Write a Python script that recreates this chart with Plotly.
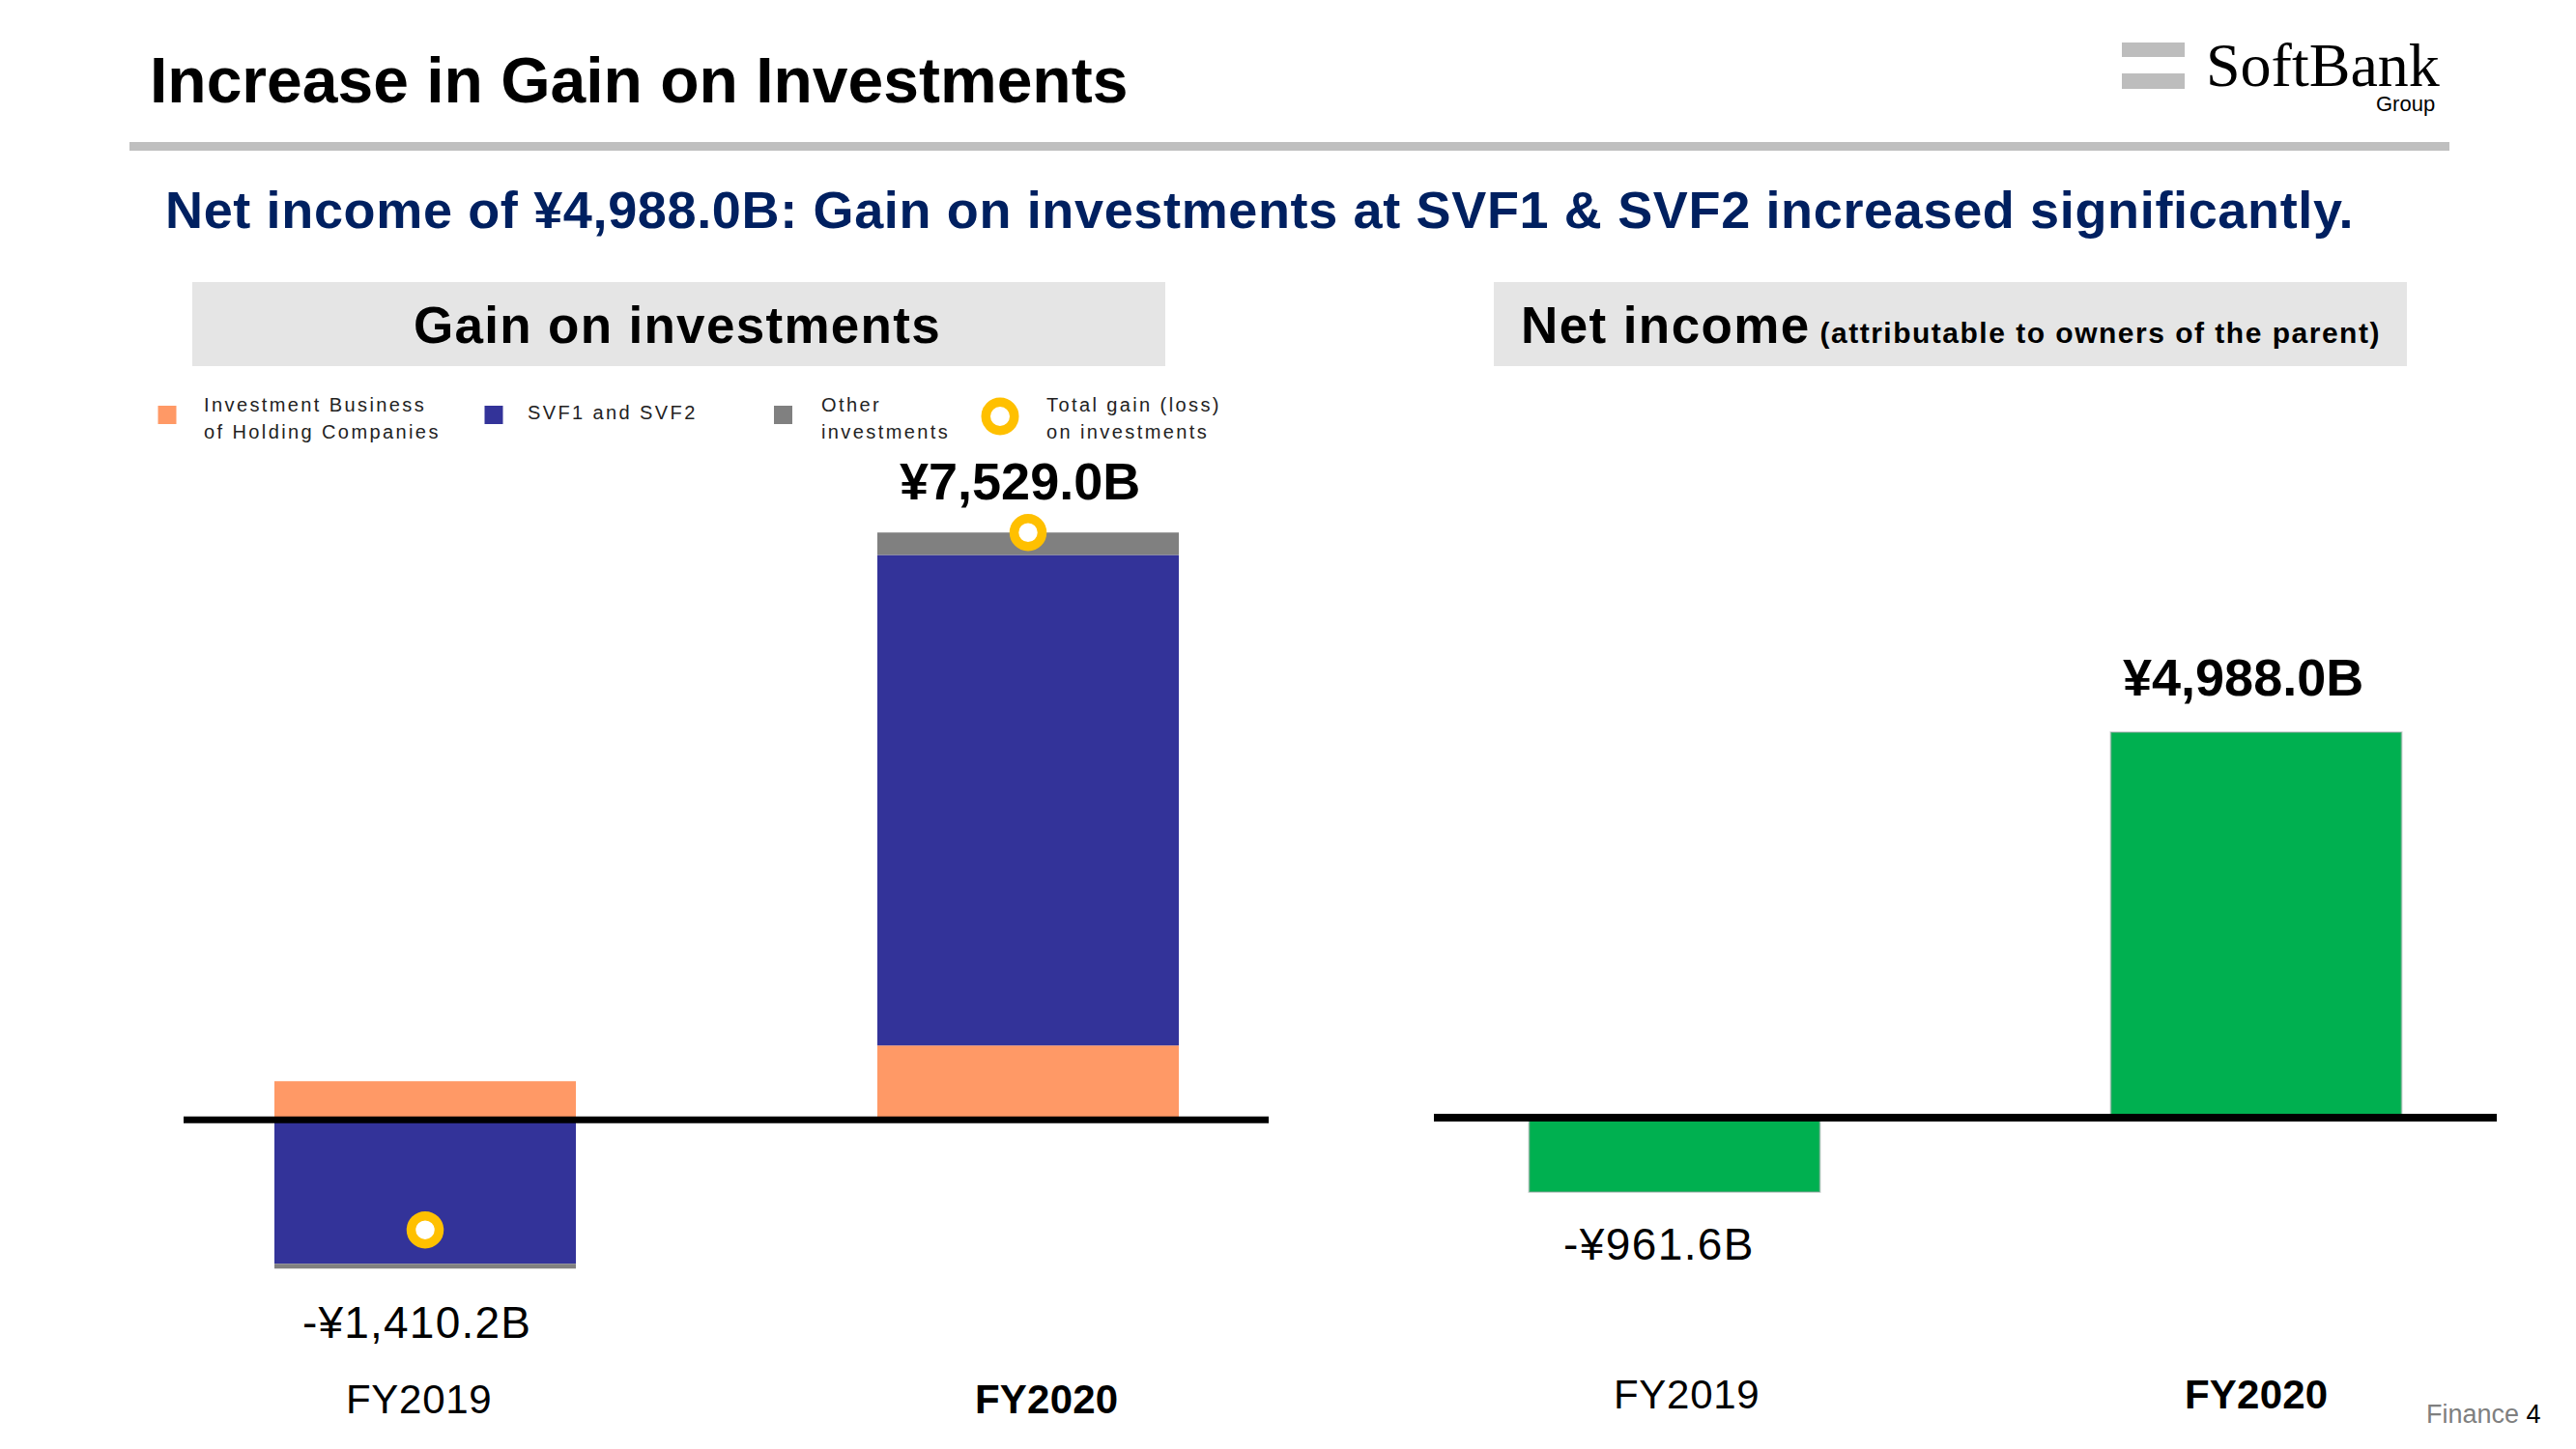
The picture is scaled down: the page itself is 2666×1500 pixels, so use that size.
import plotly.graph_objects as go

W, H = 2666, 1500
OFF = 8  # page body margin of the written html

# ---------------- data ----------------
categories = ["FY2019", "FY2020"]
holding_companies = [495.0, 955.0]      # Investment Business of Holding Companies
svf1_svf2 = [-1845.0, 6287.0]           # SVF1 and SVF2
other_investments = [-60.2, 287.0]      # Other investments
total_gain = [-1410.2, 7529.0]          # Total gain (loss) on investments
net_income = [-961.6, 4988.0]           # Net income attributable to owners of the parent

legend_labels = [
    "Investment Business<br>of Holding Companies",
    "SVF1 and SVF2",
    "Other<br>investments",
    "Total gain (loss)<br>on investments",
]
title_text = "Increase in Gain on Investments"
subtitle_text = "Net income of ¥4,988.0B: Gain on investments at SVF1 & SVF2 increased significantly."
left_header = "Gain on investments"
right_header_main = "Net income"
right_header_sub = " (attributable to owners of the parent)"

# ---------------- style ----------------
FONT = "Liberation Sans, Arial, Helvetica, sans-serif"
SERIF = "Liberation Serif, Times New Roman, serif"
ORANGE = "#FF9966"
BLUE = "#333399"
GRAY = "#808080"
YELLOW = "#FFC000"
GREEN = "#00B050"
NAVY = "#002060"


def px(x):
    return (x - OFF) / W


def py(y):
    return 1 - (y - OFF) / H


def yen(v):
    return ("-" if v < 0 else "") + f"¥{abs(v):,.1f}B"


def span(text, ls=None, bold=False, extra=""):
    t = f"<b>{text}</b>" if bold else text
    style = ""
    if ls:
        style += f"letter-spacing:{ls};"
    style += extra
    if style:
        t = f'<span style="{style}">{t}</span>'
    return t


def ann(text, x, y, size, color="black", xanchor="center", yanchor="middle",
        family=FONT, xref="paper", yref="paper", xshift=0, yshift=0, align="left"):
    return dict(text=text, x=x, y=y, xref=xref, yref=yref, showarrow=False,
                xanchor=xanchor, yanchor=yanchor, align=align,
                xshift=xshift, yshift=yshift,
                font=dict(size=size, color=color, family=family))


fig = go.Figure()

# ---- left chart: stacked gain on investments ----
for vals, col, nm in [(holding_companies, ORANGE, legend_labels[0]),
                      (svf1_svf2, BLUE, legend_labels[1]),
                      (other_investments, GRAY, legend_labels[2])]:
    fig.add_trace(go.Bar(x=categories, y=vals, name=nm.replace("<br>", " "),
                         marker=dict(color=col, line=dict(width=0)),
                         xaxis="x", yaxis="y"))

fig.add_trace(go.Scatter(x=categories, y=total_gain, mode="markers",
                         name=legend_labels[3].replace("<br>", " "),
                         marker=dict(symbol="circle", size=29, color="white",
                                     line=dict(color=YELLOW, width=9.5)),
                         xaxis="x", yaxis="y"))

# ---- right chart: net income ----
fig.add_trace(go.Bar(x=categories, y=net_income, name="Net income",
                     marker=dict(color=GREEN,
                                 line=dict(color="rgba(150,160,160,0.45)", width=2)),
                     xaxis="x2", yaxis="y2"))

# axis scales (zero-line page pixel position and pixels per ¥B)
L_ZERO, L_K = 1159.3, 0.08076
R_ZERO, R_K = 1157.0, 0.0800

annotations = []
shapes = []

# zero lines
shapes.append(dict(type="line", xref="x domain", yref="y", x0=0, x1=1, y0=0, y1=0,
                   line=dict(color="black", width=7), layer="above"))
shapes.append(dict(type="line", xref="x2 domain", yref="y2", x0=0, x1=1, y0=0, y1=0,
                   line=dict(color="black", width=8), layer="above"))

# value labels
for cat, v in zip(categories, total_gain):
    pos = v > 0
    annotations.append(ann(span(yen(v), ls=None if pos else "1.2px", bold=pos), cat, v,
                           54 if pos else 46,
                           xref="x", yref="y", yshift=53 if pos else -96,
                           xshift=-9 if pos else -9))
for cat, v in zip(categories, net_income):
    pos = v > 0
    annotations.append(ann(span(yen(v), ls=None if pos else "1.4px", bold=pos), cat, v,
                           54 if pos else 46,
                           xref="x2", yref="y2", yshift=57 if pos else -54,
                           xshift=-14 if pos else -16))

# category labels
cat_shift_left = [-7, 19]
cat_shift_right = [12, 0]
for i, cat in enumerate(categories):
    bold = (i == len(categories) - 1)
    ls = "0.2px" if bold else "0.7px"
    annotations.append(ann(span(cat, ls=ls, bold=bold), cat, py(1448), 42,
                           xref="x", yref="paper", xshift=cat_shift_left[i]))
    annotations.append(ann(span(cat, ls=ls, bold=bold), cat, py(1443), 42,
                           xref="x2", yref="paper", xshift=cat_shift_right[i]))

# title, rule, subtitle
annotations.append(ann(span(title_text, bold=True), px(153), py(83), 66,
                       xanchor="left"))
shapes.append(dict(type="rect", xref="paper", yref="paper", x0=px(134), x1=px(2535),
                   y0=py(156), y1=py(147), fillcolor="#BFBFBF", line=dict(width=0),
                   layer="below"))
annotations.append(ann(span(subtitle_text, ls="0.65px", bold=True), px(169), py(217.5), 54,
                       color=NAVY, xanchor="left"))

# panel headers
for x0, x1 in [(199, 1206), (1546, 2491)]:
    shapes.append(dict(type="rect", xref="paper", yref="paper", x0=px(x0), x1=px(x1),
                       y0=py(379), y1=py(292), fillcolor="#E5E5E5",
                       line=dict(width=0), layer="below"))
annotations.append(ann(span(left_header, ls="1.3px", bold=True), px(701), py(336), 53))
annotations.append(ann(
    span(right_header_main, ls="1.4px", bold=True)
    + span(right_header_sub, ls="1.5px", bold=True, extra="font-size:30px;"),
    px(1572), py(336), 53, xanchor="left"))

# legend
sw_cols = [ORANGE, BLUE, GRAY]
sw_x = [173, 511, 810.5]
for c, cx in zip(sw_cols, sw_x):
    shapes.append(dict(type="rect", xref="paper", yref="paper",
                       x0=px(cx - 9.5), x1=px(cx + 9.5), y0=py(439), y1=py(420),
                       fillcolor=c, line=dict(width=0)))
ring_r = 14.75
shapes.append(dict(type="circle", xref="paper", yref="paper",
                   x0=px(1035 - ring_r), x1=px(1035 + ring_r),
                   y0=py(431 + ring_r), y1=py(431 - ring_r),
                   fillcolor="white", line=dict(color=YELLOW, width=9.5)))
txt_x = [209, 544, 848, 1081]
for lab, tx in zip(legend_labels, txt_x):
    lines = lab.split("<br>")
    if len(lines) == 1:
        ys = [426.5]
    else:
        ys = [418.5, 447.0]
    for line, yy in zip(lines, ys):
        annotations.append(ann(span(line, ls="2.4px"), px(tx), py(yy), 20,
                               color="#222222", xanchor="left"))

# logo
for y0, y1 in [(44, 59), (76, 92)]:
    shapes.append(dict(type="rect", xref="paper", yref="paper", x0=px(2196), x1=px(2261),
                       y0=py(y1), y1=py(y0), fillcolor="#BDBDBD", line=dict(width=0)))
annotations.append(ann("SoftBank", px(2281), py(67), 64, family=SERIF, xanchor="left"))
annotations.append(ann("Group", px(2522), py(108), 22, xanchor="right"))

# footer
annotations.append(ann('<span style="fill:#7F7F7F">Finance</span> 4',
                       px(2632), py(1464), 27, xanchor="right"))

fig.update_layout(
    width=W, height=H,
    margin=dict(l=0, r=0, t=0, b=0),
    paper_bgcolor="white", plot_bgcolor="rgba(0,0,0,0)",
    barmode="relative", bargap=0.5,
    showlegend=False,
    xaxis=dict(domain=[px(190), px(1313)], type="category",
               range=[-250 / 624, 1 + 249 / 624], visible=False, fixedrange=True),
    yaxis=dict(domain=[0, 1],
               range=[-(H - (L_ZERO - OFF)) / L_K, (L_ZERO - OFF) / L_K],
               visible=False, fixedrange=True),
    xaxis2=dict(domain=[px(1484), px(2584)], type="category",
                range=[-249 / 602, 1 + 249 / 602], visible=False, fixedrange=True),
    yaxis2=dict(domain=[0, 1],
                range=[-(H - (R_ZERO - OFF)) / R_K, (R_ZERO - OFF) / R_K],
                visible=False, fixedrange=True, anchor="x2"),
    annotations=annotations,
    shapes=shapes,
    font=dict(family=FONT),
)

fig.write_html("out.html")
